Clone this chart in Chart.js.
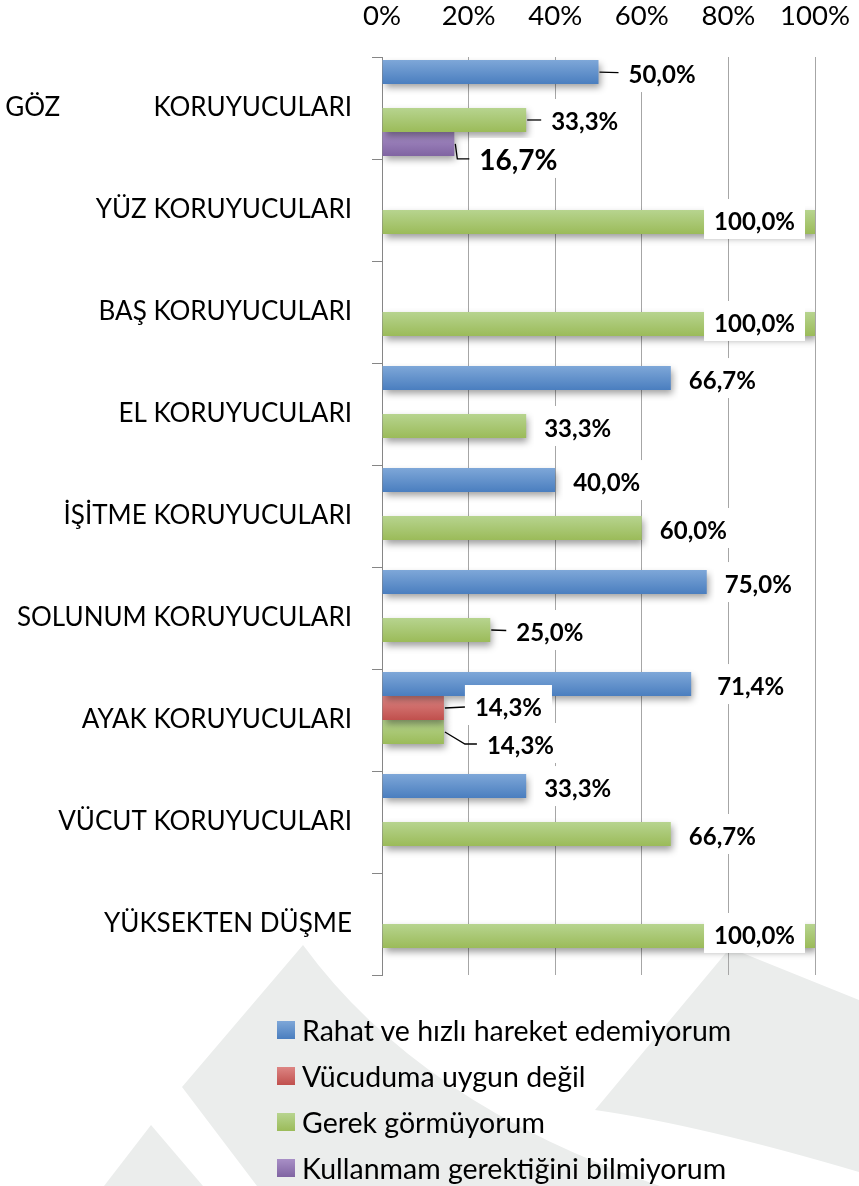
<!DOCTYPE html>
<html>
<head>
<meta charset="utf-8">
<script src="https://cdn.jsdelivr.net/npm/chart.js@4.4.1/dist/chart.umd.min.js"></script>
<style>
  html, body { margin: 0; padding: 0; background: #ffffff; }
  #wrap { position: relative; width: 859px; height: 1186px; overflow: hidden; }
  #c { position: absolute; left: 0; top: 0; }
  #legend { position: absolute; left: 277px; top: 1007px; font-family: Lato, sans-serif; font-size: 28.5px; color: #000; }
  .li { display: flex; align-items: center; height: 46px; white-space: nowrap; }
  .sw { width: 18px; height: 18px; margin-right: 7px; flex: none; }
</style>
</head>
<body>
<div id="wrap">
  <canvas id="c" width="859" height="1186"></canvas>
  <div id="legend"></div>
</div>
<script>
// ---------------- DATA ----------------
const categories = [
  "GÖZ KORUYUCULARI",
  "YÜZ KORUYUCULARI",
  "BAŞ KORUYUCULARI",
  "EL KORUYUCULARI",
  "İŞİTME KORUYUCULARI",
  "SOLUNUM KORUYUCULARI",
  "AYAK KORUYUCULARI",
  "VÜCUT KORUYUCULARI",
  "YÜKSEKTEN DÜŞME"
];
const seriesNames = [
  "Rahat ve hızlı hareket edemiyorum",
  "Vücuduma uygun değil",
  "Gerek görmüyorum",
  "Kullanmam gerektiğini bilmiyorum"
];
const rahatValues   = [50.0, 0, 0, 66.7, 40.0, 75.0, 71.4, 33.3, 0];
const vucudaValues  = [0, 0, 0, 0, 0, 0, 14.3, 0, 0];
const gerekValues   = [33.3, 100.0, 100.0, 33.3, 60.0, 25.0, 14.3, 66.7, 100.0];
const bilmiyorValues = [16.7, 0, 0, 0, 0, 0, 0, 0, 0];
const xTickValues = [0, 20, 40, 60, 80, 100];

// ---------------- STYLE ----------------
const CAT_PCT = 0.94;
const seriesColors = [
  ['#7ea7d8', '#4a7ebf'],
  ['#dd8583', '#c0504d'],
  ['#b7d48f', '#9bbb59'],
  ['#a88fc6', '#8064a2']
];
// manual label placement tweaks (like dragged labels in the original), keyed "dataset-index"
const labelTweaks = {
  '0-0': { dx: 12, dy: 0, leader: true },
  '2-0': { dx: 7, dy: -1, leader: true },
  '3-0': { dx: 7, dy: 14, leader: true, size: 28 },
  '2-5': { dx: 8, dy: 0, leader: true },
  '0-6': { dx: 8, dy: 0 },
  '1-6': { dx: 13, dy: -3, leader: true },
  '2-6': { dx: 25, dy: 11, leader: true }
};
const LABEL_SIZE = 24;
const FIRST_LABEL_WIDTH = 344; // first category label is justified in the original

function barFill(topColor, bottomColor) {
  return function (ctx) {
    const chart = ctx.chart;
    const ys = chart.scales && chart.scales.y;
    if (ctx.type !== 'data' || !ys || ys.bottom == null) return bottomColor;
    const n = chart.data.labels.length;
    const band = (ys.bottom - ys.top) / n;
    const group = band * CAT_PCT;
    const nd = chart.data.datasets.length;
    const thick = group / nd;
    const top = ys.getPixelForValue(ctx.dataIndex) - group / 2 + ctx.datasetIndex * thick;
    if (!isFinite(top)) return bottomColor;
    const g = chart.ctx.createLinearGradient(0, top, 0, top + thick);
    g.addColorStop(0, topColor);
    g.addColorStop(1, bottomColor);
    return g;
  };
}

const measureCtx = document.createElement('canvas').getContext('2d');
function justify(label, width, font) {
  measureCtx.font = font;
  const words = label.split(' ');
  if (words.length < 2) return label;
  let n = 1, s = words[0] + '\u00A0' + words.slice(1).join(' ');
  while (measureCtx.measureText(s).width < width && n < 200) {
    n++;
    s = words[0] + '\u00A0'.repeat(n) + words.slice(1).join(' ');
  }
  return s;
}

const watermark = {
  id: 'watermark',
  beforeDraw(chart) {
    const c = chart.ctx;
    c.save();
    c.fillStyle = '#ebedec';
    c.beginPath();
    c.moveTo(151, 1125); c.lineTo(104, 1186); c.lineTo(203, 1186); c.closePath(); c.fill();
    c.beginPath();
    c.moveTo(303, 945); c.lineTo(182, 1087); c.lineTo(257, 1186); c.lineTo(660, 1186);
    c.quadraticCurveTo(420, 1105, 303, 945); c.closePath(); c.fill();
    c.beginPath();
    c.moveTo(730, 948); c.lineTo(859, 1000); c.lineTo(859, 1172);
    c.quadraticCurveTo(700, 1125, 595, 1110); c.closePath(); c.fill();
    c.restore();
  }
};

function fmt(v) { return v.toFixed(1).replace('.', ',') + '%'; }

const barEffects = {
  id: 'barEffects',
  beforeDatasetsDraw(chart) {
    const c = chart.ctx;
    c.save();
    c.shadowColor = 'rgba(0,0,0,0.38)';
    c.shadowBlur = 7;
    c.shadowOffsetX = 2;
    c.shadowOffsetY = 4;
  },
  afterDatasetsDraw(chart) {
    const c = chart.ctx;
    c.restore();
    c.save();
    const area = chart.chartArea;
    chart.data.datasets.forEach((ds, di) => {
      const meta = chart.getDatasetMeta(di);
      meta.data.forEach((bar, i) => {
        const v = ds.data[i];
        if (!v) return;
        const t = labelTweaks[di + '-' + i] || {};
        const size = t.size || LABEL_SIZE;
        c.font = 'bold ' + size + 'px Lato';
        const text = fmt(v);
        const w = c.measureText(text).width;
        let tx, ty;
        if (bar.x + 18 + w > area.right) {
          tx = bar.x - 20 - w;
          ty = bar.y - 1;
        } else {
          tx = bar.x + 18 + (t.dx || 0);
          ty = bar.y + 2 + (t.dy || 0);
        }
        const bx = tx - 10, by = ty - 22, bw = w + 20, bh = 40;
        c.fillStyle = '#ffffff';
        c.fillRect(bx, by, bw, bh);
        if (t.leader) {
          c.strokeStyle = '#000';
          c.lineWidth = 1.3;
          c.beginPath();
          c.moveTo(bar.x + 1, bar.y);
          if (Math.abs(ty - bar.y) > 6) {
            c.lineTo(bx - 12, ty - 1);
            c.lineTo(bx, ty - 1);
          } else {
            c.lineTo(bx, (bar.y + ty) / 2 - 0.5);
          }
          c.stroke();
        }
        c.fillStyle = '#000';
        c.textBaseline = 'alphabetic';
        c.textAlign = 'left';
        c.fillText(text, tx, ty + size * 0.36);
      });
    });
    c.restore();
  }
};

const valueArrays = [rahatValues, vucudaValues, gerekValues, bilmiyorValues];
const datasets = valueArrays.map((arr, k) => ({
  label: seriesNames[k],
  data: arr,
  backgroundColor: barFill(seriesColors[k][0], seriesColors[k][1]),
  borderWidth: 0,
  categoryPercentage: CAT_PCT,
  barPercentage: 1
}));

const chart = new Chart(document.getElementById('c'), {
  type: 'bar',
  data: { labels: categories, datasets: datasets },
  options: {
    indexAxis: 'y',
    responsive: false,
    animation: false,
    events: [],
    layout: { padding: { left: 0, right: 44, top: 0, bottom: 211 } },
    plugins: { legend: { display: false }, tooltip: { enabled: false } },
    scales: {
      x: {
        position: 'top',
        min: 0, max: 100,
        afterBuildTicks: s => { s.ticks = xTickValues.map(v => ({ value: v })); },
        ticks: { callback: v => v + '%', font: { family: 'Lato', size: 27.5 }, color: '#000', padding: 24, maxRotation: 0, autoSkip: false },
        grid: { color: '#a6a6a6', drawTicks: false, lineWidth: 1 },
        border: { display: false },
        afterFit: s => { s.height = 57; s.paddingLeft = 0; s.paddingRight = 0; }
      },
      y: {
        ticks: {
          font: { family: 'Lato', size: 26 }, color: '#000', padding: 20, autoSkip: false,
          callback: function (value, index) {
            const lbl = this.getLabelForValue(value);
            return index === 0 ? justify(lbl, FIRST_LABEL_WIDTH, '26px Lato') : lbl;
          }
        },
        grid: { offset: true, drawOnChartArea: false, tickLength: 10, color: '#868686' },
        border: { display: true, color: '#868686' },
        afterFit: s => { s.width = 382; s.paddingTop = 0; s.paddingBottom = 0; }
      }
    }
  },
  plugins: [watermark, barEffects]
});

// HTML legend built from the chart's datasets
const legendEl = document.getElementById('legend');
chart.data.datasets.forEach((ds, k) => {
  const row = document.createElement('div');
  row.className = 'li';
  const sw = document.createElement('span');
  sw.className = 'sw';
  sw.style.background = 'linear-gradient(to bottom,' + seriesColors[k][0] + ',' + seriesColors[k][1] + ')';
  const tx = document.createElement('span');
  tx.textContent = ds.label;
  row.appendChild(sw);
  row.appendChild(tx);
  legendEl.appendChild(row);
});
</script>
</body>
</html>
